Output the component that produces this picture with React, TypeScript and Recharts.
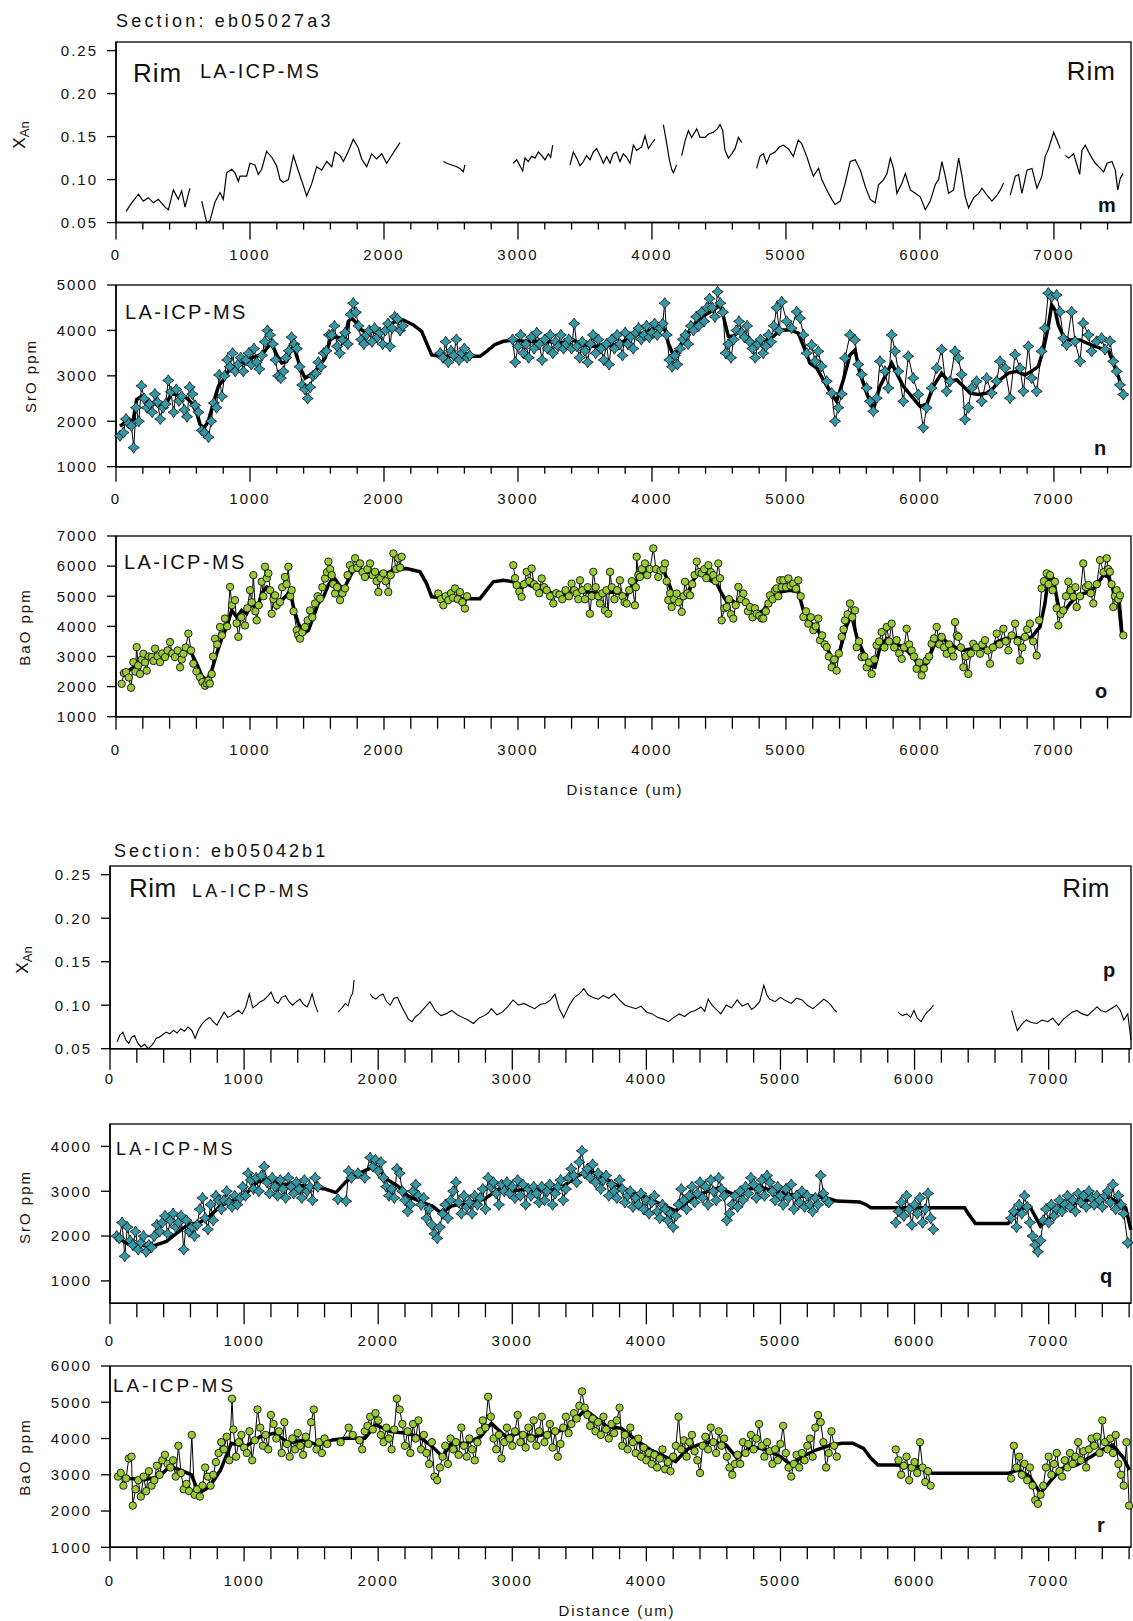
import { ComposedChart, Line, XAxis, YAxis, ReferenceArea } from 'recharts';

type Pt = [number, number | null];

const FONT = "'Liberation Sans', Arial, sans-serif";

// ---- Section eb05027a3 ----
const xTicksA = [0, 200, 400, 600, 800, 1000, 1200, 1400, 1600, 1800, 2000, 2200, 2400, 2600, 2800, 3000, 3200, 3400, 3600, 3800, 4000, 4200, 4400, 4600, 4800, 5000, 5200, 5400, 5600, 5800, 6000, 6200, 6400, 6600, 6800, 7000, 7200, 7400];
const xanTicks = [0.05, 0.1, 0.15, 0.2, 0.25];
const srTicksA = [1000, 2000, 3000, 4000, 5000];
const baTicksA = [1000, 2000, 3000, 4000, 5000, 6000, 7000];

// anorthite fraction, null rows split the traverse where no analyses exist
const xanA: Pt[] = [
  [75, 0.063], [117, 0.073], [167, 0.083], [204, 0.075], [241, 0.079], [279, 0.073], [316, 0.077], [366, 0.068], [391, 0.065], [428, 0.088], [465, 0.077], [490, 0.087], [515, 0.068], [552, 0.09],
  [600, null],
  [640, 0.075], [677, 0.05], [701, 0.052], [739, 0.074], [776, 0.085], [801, 0.077], [826, 0.108], [863, 0.112], [888, 0.108], [913, 0.098], [925, 0.104], [975, 0.104], [1000, 0.119], [1037, 0.117], [1062, 0.106], [1087, 0.112], [1124, 0.133], [1162, 0.126], [1199, 0.116], [1224, 0.1], [1249, 0.097], [1287, 0.1], [1324, 0.128], [1361, 0.11], [1398, 0.093], [1423, 0.081], [1460, 0.095], [1498, 0.115], [1535, 0.111], [1573, 0.121], [1610, 0.115], [1634, 0.132], [1672, 0.128], [1697, 0.121], [1734, 0.133], [1771, 0.147], [1808, 0.137], [1833, 0.124], [1871, 0.115], [1908, 0.13], [1945, 0.124], [1983, 0.13], [2020, 0.119], [2057, 0.128], [2090, 0.136], [2119, 0.143],
  [2300, null],
  [2443, 0.121], [2468, 0.119], [2505, 0.117], [2543, 0.115], [2567, 0.113], [2592, 0.109], [2604, 0.117],
  [2800, null],
  [2965, 0.119], [2990, 0.123], [3015, 0.116], [3035, 0.11], [3052, 0.125], [3077, 0.121], [3102, 0.127], [3127, 0.125], [3152, 0.132], [3177, 0.128], [3202, 0.123], [3226, 0.13], [3244, 0.126], [3259, 0.14],
  [3320, null],
  [3388, 0.117], [3413, 0.132], [3438, 0.125], [3463, 0.116], [3488, 0.121], [3512, 0.128], [3537, 0.123], [3562, 0.132], [3587, 0.136], [3612, 0.128], [3637, 0.119], [3662, 0.127], [3687, 0.119], [3711, 0.13], [3736, 0.132], [3761, 0.121], [3786, 0.13], [3811, 0.126], [3836, 0.119], [3861, 0.14], [3886, 0.134], [3923, 0.138], [3948, 0.151], [3973, 0.136], [3998, 0.142], [4022, 0.147],
  [4050, null],
  [4085, 0.164], [4110, 0.142], [4130, 0.123], [4147, 0.112], [4160, 0.108], [4184, 0.117],
  [4200, null],
  [4222, 0.128], [4247, 0.145], [4272, 0.157], [4296, 0.149], [4334, 0.159], [4359, 0.149], [4396, 0.149], [4421, 0.153], [4458, 0.155], [4488, 0.159], [4508, 0.164], [4528, 0.157], [4545, 0.134], [4570, 0.125], [4595, 0.13], [4620, 0.136], [4645, 0.149], [4670, 0.143],
  [4720, null],
  [4781, 0.113], [4806, 0.127], [4831, 0.13], [4856, 0.119], [4881, 0.129], [4918, 0.132], [4950, 0.138], [4980, 0.14], [5018, 0.136], [5055, 0.127], [5092, 0.146], [5117, 0.142], [5155, 0.127], [5180, 0.115], [5205, 0.104], [5243, 0.113], [5267, 0.1], [5305, 0.088], [5342, 0.077], [5367, 0.071], [5405, 0.075], [5442, 0.096], [5480, 0.121], [5517, 0.123], [5555, 0.111], [5592, 0.092], [5629, 0.077], [5666, 0.073], [5691, 0.094], [5729, 0.1], [5754, 0.107], [5779, 0.125], [5803, 0.113], [5828, 0.084], [5866, 0.096], [5891, 0.107], [5928, 0.088], [5965, 0.084], [6002, 0.08], [6040, 0.065], [6077, 0.075], [6114, 0.094], [6139, 0.1], [6164, 0.121], [6189, 0.104], [6214, 0.084], [6251, 0.088], [6289, 0.125], [6314, 0.104], [6338, 0.08], [6363, 0.067], [6401, 0.079], [6438, 0.084], [6463, 0.09], [6500, 0.082], [6537, 0.075], [6575, 0.082], [6600, 0.088], [6624, 0.096],
  [6650, null],
  [6674, 0.082], [6712, 0.104], [6736, 0.106], [6761, 0.084], [6799, 0.111], [6836, 0.113], [6873, 0.09], [6910, 0.104], [6935, 0.127], [6960, 0.136], [6998, 0.155], [7022, 0.146], [7047, 0.136],
  [7065, null],
  [7085, 0.128], [7110, 0.125], [7147, 0.13], [7172, 0.117], [7192, 0.106], [7209, 0.134], [7234, 0.14], [7259, 0.132], [7284, 0.125], [7309, 0.119], [7346, 0.113], [7371, 0.109], [7396, 0.119], [7433, 0.121], [7458, 0.111], [7476, 0.088], [7496, 0.102], [7516, 0.107],
];

const srA: Pt[] = [
  [30, 1680], [55, 1750], [75, 2050], [95, 1950], [115, 1900], [132, 1420], [150, 2300], [170, 2000], [190, 2780], [210, 2500], [230, 2300], [250, 2380], [270, 2200], [290, 2600], [310, 2420], [330, 2050], [350, 2300], [370, 2380], [390, 2900], [410, 2650], [430, 2200], [450, 2700], [470, 2450], [490, 2550], [510, 2250], [530, 2100], [550, 2750], [570, 2600], [590, 2350], [615, 2200], [640, 1800], [660, 1750], [690, 1650], [710, 2000], [730, 2400], [750, 2300], [770, 3020], [790, 2550], [810, 3000], [830, 3350], [850, 3200], [870, 3500], [890, 3100], [910, 3250], [930, 3400], [950, 3100], [970, 3350], [990, 3500], [1010, 3250], [1030, 3600], [1050, 3300], [1070, 3150], [1090, 3450], [1110, 3750], [1130, 4000], [1150, 3900], [1170, 3700], [1190, 3350], [1210, 3000], [1230, 2950], [1250, 3100], [1270, 3400], [1290, 3550], [1310, 3850], [1330, 3700], [1350, 3600], [1370, 3200], [1390, 2800], [1410, 2700], [1430, 2500], [1450, 2750], [1470, 3000], [1490, 3050], [1510, 3300], [1530, 3200], [1550, 3500], [1570, 3550], [1590, 3900], [1610, 3900], [1630, 4100], [1650, 3650], [1670, 3500], [1690, 3800], [1710, 3950], [1730, 3700], [1750, 4350], [1770, 4600], [1790, 4400], [1810, 4100], [1830, 3800], [1850, 3700], [1870, 3900], [1890, 4000], [1910, 3750], [1930, 4050], [1950, 3850], [1970, 3950], [1990, 3700], [2010, 4000], [2030, 4150], [2045, 3650], [2060, 4050], [2080, 4300], [2100, 4250], [2120, 4000], [2140, 4100],
  [2200, null],
  [2420, 3500], [2440, 3400], [2460, 3750], [2480, 3300], [2500, 3550], [2520, 3450], [2540, 3800], [2560, 3350], [2580, 3500], [2600, 3600], [2620, 3400], [2640, 3450],
  [2700, null],
  [2960, 3800], [2980, 3300], [3000, 3650], [3020, 3900], [3040, 3500], [3060, 3700], [3080, 3400], [3100, 3850], [3120, 3600], [3140, 3950], [3160, 3700], [3180, 3350], [3200, 3800], [3220, 3600], [3240, 3900], [3260, 3500], [3280, 3750], [3300, 3650], [3320, 3900], [3340, 3600], [3360, 3700], [3380, 3800], [3400, 3600], [3420, 4150], [3440, 3650], [3460, 3400], [3480, 3750], [3500, 3550], [3520, 3300], [3540, 3700], [3560, 3900], [3580, 3500], [3600, 3800], [3620, 3600], [3640, 3350], [3660, 3700], [3680, 3250], [3700, 3800], [3720, 3600], [3740, 3900], [3760, 3700], [3780, 3450], [3800, 3950], [3820, 3700], [3840, 3850], [3860, 3600], [3880, 3950], [3900, 4050], [3920, 3800], [3940, 3900], [3960, 4100], [3980, 3850], [4000, 3950], [4020, 4150], [4040, 3900], [4060, 4050], [4080, 4150], [4095, 4600], [4110, 3900], [4130, 3350], [4150, 3200], [4170, 3450], [4190, 3250], [4210, 3600], [4230, 3800], [4250, 3900], [4270, 3700], [4290, 4100], [4310, 4000], [4330, 4300], [4350, 4100], [4370, 4400], [4390, 4200], [4410, 4500], [4430, 4700], [4450, 4500], [4470, 4300], [4490, 4850], [4510, 4600], [4530, 4400], [4550, 3500], [4570, 3700], [4590, 3400], [4610, 3800], [4630, 4000], [4650, 4200], [4670, 3950], [4690, 3850], [4710, 4100], [4730, 3750], [4750, 3600], [4770, 3400], [4790, 3700], [4810, 3800], [4830, 3500], [4850, 3650], [4870, 3900], [4890, 3750], [4910, 4100], [4930, 4500], [4950, 4000], [4968, 4630], [5005, 4200], [5042, 4050], [5080, 4410], [5105, 4270], [5130, 3900], [5155, 3500], [5192, 3680], [5217, 3320], [5241, 3540], [5266, 3210], [5304, 2880], [5341, 2620], [5366, 2000], [5391, 2300], [5416, 2600], [5441, 3390], [5478, 3900], [5515, 3790], [5540, 3250], [5565, 3030], [5602, 2730], [5627, 2440], [5652, 2220], [5677, 2510], [5702, 3320], [5739, 3100], [5764, 2730], [5789, 3900], [5814, 3540], [5839, 3100], [5876, 2440], [5913, 3430], [5950, 2950], [5988, 2590], [6025, 1860], [6050, 2300], [6087, 2730], [6125, 3170], [6162, 3580], [6199, 2660], [6224, 2880], [6262, 3540], [6287, 3390], [6311, 3030], [6336, 2040], [6361, 2300], [6386, 2730], [6423, 2880], [6461, 2440], [6498, 2950], [6535, 2620], [6573, 2880], [6597, 3320], [6635, 3170], [6672, 2510], [6710, 3470], [6747, 3170], [6772, 2660], [6809, 3650], [6834, 2950], [6871, 2660], [6908, 3540], [6933, 4050], [6958, 4820], [6983, 4740], [7020, 4780], [7045, 4410], [7070, 3830], [7095, 3680], [7132, 4410], [7157, 3760], [7195, 3320], [7219, 4160], [7257, 3900], [7281, 3540], [7319, 3760], [7356, 3830], [7381, 3580], [7418, 3760], [7443, 3320], [7468, 3100], [7493, 2800], [7518, 2590],
];

const srAFit: Pt[] = [
  [30, 1890], [80, 2000], [129, 2040], [154, 2480], [192, 2550], [229, 2440], [279, 2400], [328, 2330], [378, 2400], [415, 2620], [453, 2580], [490, 2550], [527, 2510], [565, 2400], [602, 2180], [627, 1930], [657, 1850], [689, 2000], [726, 2400], [764, 2770], [801, 2910], [851, 3170], [900, 3240], [950, 3280], [1000, 3390], [1050, 3430], [1100, 3500], [1137, 3650], [1162, 3720], [1199, 3460], [1237, 3280], [1274, 3320], [1299, 3540], [1324, 3650], [1361, 3320], [1386, 3100], [1411, 2950], [1448, 3020], [1485, 3100], [1523, 3240], [1560, 3390], [1597, 3790], [1635, 3870], [1672, 3830], [1709, 3870], [1734, 4200], [1759, 4270], [1796, 4160], [1834, 4010], [1871, 3940], [1921, 3980], [1970, 3950], [2020, 4010], [2070, 4180], [2144, 4230], [2219, 4120], [2281, 3980], [2318, 3720], [2356, 3460], [2393, 3440], [2468, 3430], [2592, 3430], [2716, 3430], [2766, 3540], [2828, 3690], [2891, 3760], [2965, 3790], [3040, 3760], [3139, 3760], [3214, 3760], [3313, 3720], [3413, 3790], [3463, 3690], [3562, 3650], [3662, 3650], [3761, 3720], [3861, 3870], [3960, 3980], [4060, 4090], [4097, 4010], [4122, 3720], [4159, 3460], [4197, 3570], [4234, 3790], [4284, 4010], [4334, 4200], [4396, 4340], [4458, 4450], [4508, 4560], [4533, 4310], [4570, 3870], [4607, 3870], [4657, 4010], [4707, 3870], [4757, 3720], [4806, 3760], [4856, 3790], [4906, 3870], [4955, 4010], [5030, 4010], [5092, 3940], [5142, 3570], [5179, 3280], [5229, 3170], [5279, 2910], [5328, 2660], [5378, 2440], [5428, 2910], [5478, 3460], [5515, 3570], [5552, 3060], [5602, 2620], [5652, 2250], [5702, 2770], [5752, 3060], [5789, 3280], [5826, 3060], [5876, 2770], [5938, 2550], [6000, 2330], [6050, 2370], [6100, 2770], [6162, 3060], [6212, 2880], [6274, 2910], [6324, 2770], [6374, 2620], [6436, 2590], [6498, 2620], [6548, 2730], [6597, 2910], [6660, 3060], [6722, 3100], [6784, 3020], [6834, 3100], [6884, 3210], [6921, 3570], [6958, 4090], [6983, 4560], [7008, 4450], [7033, 4120], [7070, 3870], [7120, 3790], [7195, 3790], [7269, 3690], [7344, 3610], [7406, 3570], [7443, 3280], [7481, 2980], [7506, 2770],
];

const baA: Pt[] = [
  [42, 2090], [60, 2450], [75, 2480], [95, 2300], [112, 1960], [129, 2810], [145, 2500], [154, 3310], [165, 2700], [179, 2420], [192, 2900], [204, 3090], [216, 2800], [229, 2530], [245, 3000], [266, 2980], [280, 2850], [291, 3260], [310, 3000], [328, 2810], [345, 3100], [366, 2980], [385, 3200], [403, 3480], [420, 3100], [440, 2980], [460, 3200], [478, 2640], [490, 2900], [503, 3090], [520, 3300], [540, 3760], [560, 3200], [577, 2760], [600, 2500], [627, 2310], [645, 2150], [664, 2030], [677, 2100], [689, 2200], [700, 2100], [714, 2420], [725, 3000], [739, 3590], [755, 3400], [776, 3980], [790, 3700], [813, 4260], [830, 4000], [851, 5310], [865, 4700], [888, 4870], [900, 4100], [913, 3650], [935, 4300], [963, 4030], [980, 4600], [1000, 5200], [1013, 4800], [1025, 5700], [1040, 4500], [1050, 4200], [1065, 4700], [1087, 5480], [1100, 5000], [1112, 5980], [1125, 5600], [1137, 5760], [1150, 5200], [1162, 4420], [1175, 4900], [1187, 5030], [1200, 4700], [1224, 4810], [1240, 5300], [1261, 5640], [1273, 5400], [1286, 5980], [1300, 5000], [1311, 5200], [1325, 4500], [1349, 3870], [1360, 3700], [1373, 3590], [1390, 3800], [1411, 3980], [1430, 4200], [1448, 4530], [1465, 4300], [1485, 4760], [1505, 5000], [1523, 4920], [1540, 5300], [1560, 5590], [1575, 5800], [1585, 6150], [1598, 5900], [1610, 5700], [1622, 5400], [1635, 5090], [1650, 5300], [1672, 4870], [1690, 5100], [1709, 5260], [1728, 5700], [1746, 6030], [1765, 5900], [1784, 6260], [1800, 5950], [1821, 6090], [1840, 5800], [1858, 5640], [1876, 5900], [1896, 6090], [1915, 5700], [1933, 5810], [1945, 5500], [1958, 5140], [1975, 5600], [1995, 5760], [2012, 5500], [2032, 5140], [2050, 5700], [2070, 6420], [2090, 5900], [2107, 6260], [2120, 5950], [2132, 6310],
  [2200, null],
  [2405, 5090], [2425, 4900], [2443, 4700], [2460, 5000], [2480, 4870], [2500, 5100], [2515, 4950], [2530, 5260], [2550, 4900], [2567, 5140], [2585, 4800], [2604, 4590], [2620, 5000],
  [2700, null],
  [2965, 6030], [2978, 5600], [2990, 5370], [3010, 5150], [3027, 4980], [3045, 5400], [3065, 5810], [3085, 5500], [3102, 5920], [3120, 5400], [3139, 5310], [3158, 5100], [3177, 5590], [3195, 5300], [3214, 5200], [3240, 5000], [3264, 4760], [3285, 5100], [3310, 5050], [3330, 4900], [3355, 5200], [3380, 5000], [3400, 5420], [3420, 5200], [3438, 5090], [3450, 4900], [3463, 5530], [3480, 5200], [3500, 4900], [3520, 5300], [3537, 4420], [3550, 5000], [3562, 5810], [3580, 5300], [3600, 5000], [3612, 4760], [3630, 5100], [3649, 4530], [3660, 5200], [3674, 4420], [3687, 5810], [3700, 5300], [3720, 4900], [3740, 5200], [3761, 5530], [3780, 5000], [3795, 4800], [3811, 4760], [3830, 5200], [3850, 5500], [3873, 4700], [3880, 5300], [3886, 6310], [3898, 5700], [3910, 5640], [3925, 5900], [3948, 6090], [3965, 5700], [3985, 5900], [4010, 6590], [4030, 5900], [4047, 5640], [4065, 5850], [4085, 5900], [4097, 6090], [4110, 5500], [4122, 4870], [4135, 5100], [4147, 4640], [4165, 4900], [4184, 5090], [4200, 4800], [4222, 4480], [4235, 5000], [4247, 5480], [4265, 5100], [4284, 5030], [4300, 5400], [4318, 5700], [4334, 6150], [4350, 5800], [4371, 5760], [4390, 5900], [4405, 5600], [4421, 6030], [4440, 5800], [4458, 5700], [4475, 5500], [4495, 6090], [4508, 5600], [4520, 4200], [4540, 4600], [4558, 4640], [4575, 4900], [4590, 4400], [4607, 4260], [4625, 4700], [4645, 5310], [4665, 4900], [4682, 5090], [4700, 4800], [4716, 4500], [4732, 4640], [4750, 4300], [4768, 4600], [4781, 4420], [4800, 4350], [4819, 4260], [4831, 4260], [4850, 4500], [4869, 4760], [4881, 5030], [4900, 4900], [4918, 5200], [4930, 5260], [4943, 5000], [4956, 5530], [4968, 5300], [4980, 5530], [5000, 5300], [5018, 5590], [5035, 5350], [5055, 5420], [5075, 5250], [5092, 5530], [5110, 5000], [5130, 4310], [5150, 4500], [5167, 4090], [5185, 4300], [5204, 3870], [5222, 4000], [5241, 4260], [5254, 3540], [5270, 3700], [5290, 3400], [5304, 3310], [5320, 3000], [5341, 2640], [5360, 2900], [5378, 2530], [5395, 3100], [5416, 3650], [5430, 3900], [5441, 4200], [5460, 4400], [5478, 4760], [5495, 4300], [5515, 4530], [5528, 3310], [5545, 3500], [5565, 2980], [5585, 3000], [5602, 2640], [5620, 2800], [5640, 2420], [5660, 2900], [5677, 3370], [5695, 3500], [5714, 3810], [5735, 3300], [5752, 3980], [5770, 3500], [5789, 4090], [5808, 3300], [5826, 3540], [5845, 3100], [5864, 2920], [5882, 3300], [5901, 3920], [5920, 3400], [5938, 3200], [5955, 3000], [5975, 2590], [5995, 2800], [6013, 2370], [6030, 2600], [6050, 2870], [6068, 3000], [6087, 3420], [6105, 3600], [6125, 3980], [6145, 3400], [6162, 3650], [6180, 3300], [6199, 3090], [6218, 3400], [6237, 3200], [6250, 3000], [6262, 4140], [6275, 3700], [6287, 3650], [6305, 3300], [6324, 2640], [6342, 3000], [6361, 2420], [6380, 3100], [6398, 3420], [6420, 3300], [6448, 3090], [6465, 3400], [6486, 3540], [6505, 3200], [6523, 2760], [6545, 3300], [6573, 3760], [6595, 3400], [6623, 3920], [6640, 3500], [6660, 3200], [6685, 3700], [6710, 4090], [6728, 3500], [6747, 2870], [6765, 3300], [6784, 3650], [6800, 3900], [6821, 4090], [6845, 3500], [6871, 3030], [6890, 4200], [6908, 5260], [6925, 5500], [6946, 5760], [6960, 5400], [6971, 5700], [6990, 5200], [7008, 5480], [7020, 4600], [7033, 4030], [7050, 4400], [7070, 4530], [7090, 5000], [7108, 5480], [7125, 5200], [7145, 4980], [7160, 5300], [7170, 4640], [7195, 5000], [7219, 6090], [7238, 5300], [7257, 5370], [7275, 5100], [7294, 4760], [7320, 5400], [7344, 6200], [7370, 5800], [7394, 6260], [7405, 5900], [7418, 5810], [7430, 5400], [7443, 4640], [7455, 5000], [7468, 5200], [7480, 4900], [7493, 5030], [7518, 3700],
];

const baAFit: Pt[] = [
  [30, 2420], [80, 2480], [129, 2640], [179, 2870], [229, 2980], [303, 3030], [378, 3090], [453, 3140], [527, 3200], [565, 3090], [602, 2760], [639, 2370], [677, 2200], [714, 2530], [751, 3090], [789, 3590], [826, 3980], [863, 4530], [901, 4310], [938, 4530], [975, 4420], [1013, 4760], [1050, 4530], [1087, 5090], [1125, 5310], [1162, 5200], [1199, 4640], [1237, 4870], [1274, 5030], [1299, 5200], [1324, 4640], [1361, 4090], [1398, 3760], [1436, 3870], [1473, 4310], [1510, 4760], [1548, 4980], [1585, 5370], [1622, 5640], [1659, 5420], [1697, 5200], [1734, 5530], [1771, 5870], [1821, 5870], [1871, 5810], [1921, 5760], [1970, 5760], [2020, 5760], [2070, 5870], [2169, 5920], [2269, 5810], [2318, 5420], [2356, 4980], [2418, 4960], [2468, 4960], [2592, 4920], [2716, 4920], [2766, 5200], [2816, 5480], [2891, 5530], [2965, 5480], [3015, 5260], [3065, 5420], [3114, 5310], [3189, 5200], [3264, 5090], [3338, 5030], [3413, 5200], [3513, 5140], [3612, 5090], [3712, 5140], [3811, 5030], [3873, 5480], [3936, 5760], [4010, 5920], [4085, 5870], [4122, 5480], [4159, 5030], [4209, 5030], [4259, 5030], [4309, 5530], [4359, 5870], [4396, 5810], [4433, 5530], [4483, 5420], [4520, 5090], [4558, 4810], [4595, 4870], [4632, 4760], [4682, 4920], [4732, 4640], [4781, 4420], [4831, 4530], [4881, 4870], [4955, 5140], [5030, 5200], [5092, 5140], [5130, 4530], [5179, 4140], [5229, 3980], [5279, 3480], [5316, 3200], [5353, 2810], [5403, 3200], [5453, 4030], [5490, 4370], [5528, 3650], [5577, 3140], [5627, 2700], [5664, 2640], [5702, 3310], [5752, 3590], [5801, 3420], [5851, 3370], [5901, 3200], [5951, 2980], [6000, 2640], [6050, 2760], [6100, 3310], [6150, 3700], [6199, 3480], [6262, 3310], [6324, 3200], [6386, 3260], [6448, 3310], [6510, 3200], [6573, 3480], [6635, 3590], [6697, 3650], [6772, 3590], [6834, 3650], [6896, 3980], [6933, 4760], [6958, 5640], [6995, 5590], [7020, 4980], [7045, 4420], [7083, 4530], [7120, 4760], [7170, 4980], [7219, 5090], [7269, 5140], [7319, 5370], [7369, 5700], [7406, 5640], [7443, 5200], [7481, 4870], [7506, 3760],
];

// ---- Section eb05042b1 ----
const xTicksB = [0, 200, 400, 600, 800, 1000, 1200, 1400, 1600, 1800, 2000, 2200, 2400, 2600, 2800, 3000, 3200, 3400, 3600, 3800, 4000, 4200, 4400, 4600, 4800, 5000, 5200, 5400, 5600, 5800, 6000, 6200, 6400, 6600, 6800, 7000, 7200, 7400, 7600];
const srTicksB = [1000, 2000, 3000, 4000];
const baTicksB = [1000, 2000, 3000, 4000, 5000, 6000];

const xanB: Pt[] = [
  [53, 0.058], [75, 0.066], [96, 0.069], [118, 0.06], [140, 0.056], [160, 0.063], [183, 0.065], [205, 0.057], [231, 0.052], [258, 0.055], [285, 0.05], [305, 0.053], [323, 0.056], [345, 0.062], [366, 0.063], [392, 0.066], [420, 0.069], [445, 0.067], [474, 0.071], [500, 0.068], [527, 0.073], [555, 0.07], [581, 0.075], [610, 0.071], [635, 0.062], [660, 0.072], [689, 0.079], [715, 0.083], [743, 0.086], [770, 0.081], [797, 0.077], [825, 0.085], [851, 0.092], [878, 0.086], [905, 0.088], [930, 0.091], [958, 0.094], [985, 0.09], [1012, 0.098], [1039, 0.113], [1065, 0.097], [1093, 0.1], [1120, 0.104], [1147, 0.106], [1175, 0.11], [1201, 0.115], [1228, 0.105], [1254, 0.102], [1280, 0.109], [1308, 0.111], [1335, 0.104], [1362, 0.1], [1390, 0.104], [1416, 0.107], [1442, 0.101], [1470, 0.098], [1490, 0.105], [1507, 0.113], [1530, 0.1], [1550, 0.092],
  [1620, null],
  [1701, 0.092], [1730, 0.097], [1755, 0.102], [1775, 0.099], [1793, 0.109], [1810, 0.114], [1820, 0.129],
  [1880, null],
  [1939, 0.113], [1960, 0.109], [1982, 0.107], [2010, 0.111], [2036, 0.113], [2063, 0.104], [2090, 0.1], [2117, 0.108], [2144, 0.109], [2170, 0.1], [2198, 0.092], [2225, 0.084], [2252, 0.081], [2280, 0.087], [2306, 0.09], [2345, 0.097], [2387, 0.104], [2425, 0.094], [2467, 0.088], [2505, 0.09], [2548, 0.094], [2590, 0.089], [2629, 0.086], [2670, 0.083], [2710, 0.079], [2750, 0.085], [2790, 0.088], [2820, 0.091], [2844, 0.096], [2885, 0.089], [2925, 0.092], [2965, 0.098], [3006, 0.106], [3045, 0.1], [3087, 0.102], [3125, 0.099], [3167, 0.096], [3210, 0.101], [3248, 0.102], [3285, 0.106], [3318, 0.113], [3350, 0.096], [3383, 0.086], [3425, 0.1], [3464, 0.109], [3500, 0.113], [3534, 0.119], [3565, 0.112], [3598, 0.109], [3640, 0.107], [3679, 0.111], [3720, 0.108], [3760, 0.113], [3800, 0.106], [3841, 0.1], [3880, 0.098], [3922, 0.096], [3960, 0.099], [4003, 0.092], [4045, 0.09], [4083, 0.086], [4125, 0.084], [4164, 0.081], [4205, 0.086], [4245, 0.09], [4285, 0.087], [4326, 0.092], [4365, 0.094], [4407, 0.098], [4435, 0.093], [4461, 0.107], [4490, 0.1], [4515, 0.096], [4555, 0.09], [4596, 0.1], [4635, 0.097], [4677, 0.106], [4715, 0.099], [4757, 0.102], [4785, 0.095], [4811, 0.098], [4845, 0.104], [4876, 0.123], [4898, 0.112], [4919, 0.107], [4960, 0.104], [5000, 0.109], [5040, 0.105], [5081, 0.102], [5120, 0.108], [5161, 0.106], [5200, 0.1], [5242, 0.096], [5280, 0.101], [5323, 0.107], [5350, 0.104], [5377, 0.1], [5400, 0.095], [5420, 0.092],
  [5600, null],
  [5876, 0.092], [5910, 0.088], [5942, 0.09], [5970, 0.086], [5996, 0.094], [6020, 0.085], [6049, 0.081], [6070, 0.087], [6093, 0.092], [6115, 0.095], [6141, 0.1],
  [6400, null],
  [6724, 0.094], [6745, 0.082], [6767, 0.071], [6800, 0.078], [6832, 0.083], [6870, 0.08], [6913, 0.079], [6950, 0.083], [6993, 0.081], [7030, 0.085], [7074, 0.077], [7110, 0.084], [7144, 0.088], [7175, 0.092], [7209, 0.094], [7250, 0.09], [7290, 0.088], [7325, 0.093], [7360, 0.098], [7390, 0.094], [7425, 0.092], [7465, 0.096], [7506, 0.1], [7535, 0.094], [7560, 0.083], [7590, 0.09], [7614, 0.06],
];

const srB: Pt[] = [
  [50, 2000], [70, 1950], [90, 2300], [110, 1550], [130, 2200], [150, 1900], [170, 1800], [190, 2100], [210, 1700], [230, 1850], [250, 2000], [270, 1650], [290, 1800], [310, 1750], [330, 2000], [350, 2250], [370, 2100], [390, 2300], [410, 2450], [430, 2050], [450, 2350], [470, 2500], [490, 2200], [510, 2300], [530, 2450], [550, 1700], [570, 2350], [590, 2100], [610, 2200], [630, 2000], [650, 2250], [670, 2600], [690, 2850], [710, 2400], [730, 2150], [750, 2700], [770, 2350], [790, 2900], [810, 2800], [830, 2600], [850, 2800], [870, 3000], [890, 2750], [910, 2650], [930, 2900], [950, 2700], [970, 2850], [990, 3100], [1010, 2900], [1030, 3400], [1050, 3250], [1070, 3050], [1090, 3300], [1110, 3000], [1130, 3350], [1150, 3550], [1170, 3200], [1190, 2950], [1210, 3300], [1230, 3100], [1250, 2900], [1270, 3250], [1290, 3050], [1310, 2850], [1330, 3300], [1350, 3100], [1370, 2950], [1390, 3200], [1410, 3050], [1430, 2850], [1450, 3250], [1470, 3000], [1490, 3100], [1510, 2800], [1530, 3300], [1550, 3100],
  [1600, null],
  [1700, 2820], [1760, 2780], [1780, 3450], [1800, 3300], [1850, 3400], [1900, 3300], [1940, 3750], [1960, 3550], [1980, 3700], [2000, 3450], [2020, 3650], [2040, 3300], [2060, 3100], [2080, 2900], [2100, 3050], [2120, 2850], [2140, 3500], [2160, 3400], [2180, 3000], [2200, 2800], [2220, 2550], [2240, 2700], [2260, 3000], [2280, 3150], [2300, 2900], [2320, 2700], [2340, 2850], [2360, 2400], [2380, 2600], [2400, 2250], [2420, 2050], [2440, 1950], [2460, 2200], [2480, 2500], [2500, 2700], [2520, 2400], [2540, 2800], [2560, 3000], [2580, 3200], [2600, 2750], [2620, 2500], [2640, 2900], [2660, 2650], [2680, 2750], [2700, 2500], [2720, 2900], [2740, 2700], [2760, 2850], [2780, 3050], [2800, 2600], [2820, 3300], [2840, 3100], [2860, 3200], [2880, 2950], [2900, 2700], [2920, 3150], [2940, 3000], [2960, 3200], [2980, 2950], [3000, 3100], [3020, 2850], [3040, 3250], [3060, 2900], [3080, 3150], [3100, 2700], [3120, 3050], [3140, 2900], [3160, 3100], [3180, 2950], [3200, 2750], [3220, 3100], [3240, 2800], [3260, 3000], [3280, 3150], [3300, 2700], [3320, 2950], [3340, 3100], [3360, 3250], [3380, 2800], [3400, 3050], [3420, 3300], [3440, 3500], [3460, 3350], [3480, 3200], [3500, 3650], [3520, 3900], [3540, 3400], [3560, 3500], [3580, 3300], [3600, 3600], [3620, 3200], [3640, 3400], [3660, 3050], [3680, 3250], [3700, 3350], [3720, 2900], [3740, 3150], [3760, 3000], [3780, 2850], [3800, 3250], [3820, 3050], [3840, 2750], [3860, 2900], [3880, 3000], [3900, 2650], [3920, 2850], [3940, 2700], [3960, 2950], [3980, 2600], [4000, 2800], [4020, 2500], [4040, 2750], [4060, 2900], [4080, 2550], [4100, 2400], [4120, 2700], [4140, 2600], [4160, 2350], [4180, 2500], [4200, 2200], [4220, 2450], [4240, 2700], [4260, 3050], [4280, 2800], [4300, 2600], [4320, 2900], [4340, 3100], [4360, 2750], [4380, 2950], [4400, 3200], [4420, 2850], [4440, 3100], [4460, 2700], [4480, 3250], [4500, 3000], [4520, 2800], [4540, 3300], [4560, 3050], [4580, 2900], [4600, 2350], [4620, 2500], [4640, 2700], [4660, 2900], [4680, 2650], [4700, 3000], [4720, 2800], [4740, 3100], [4760, 2950], [4780, 3300], [4800, 3150], [4820, 2850], [4840, 3050], [4860, 3250], [4880, 2900], [4900, 3350], [4920, 3200], [4940, 3000], [4960, 2800], [4980, 3100], [5000, 2900], [5020, 2700], [5040, 3050], [5060, 2850], [5080, 3150], [5100, 2600], [5120, 2900], [5140, 2750], [5160, 3000], [5180, 2650], [5200, 2900], [5220, 2700], [5240, 2550], [5260, 2850], [5280, 2700], [5300, 3350], [5320, 2950], [5340, 2800], [5360, 2750],
  [5500, null],
  [5860, 2300], [5880, 2550], [5900, 2750], [5920, 2450], [5940, 2900], [5960, 2600], [5980, 2250], [6000, 2700], [6020, 2500], [6040, 2850], [6060, 2300], [6080, 2600], [6100, 2950], [6120, 2400], [6140, 2150],
  [6300, null],
  [6720, 2400], [6740, 2550], [6760, 2200], [6780, 2700], [6800, 2500], [6820, 2900], [6840, 2650], [6860, 2300], [6880, 2000], [6900, 1800], [6920, 1650], [6940, 1900], [6960, 2350], [6980, 2600], [7000, 2300], [7020, 2700], [7040, 2450], [7060, 2600], [7080, 2800], [7100, 2550], [7120, 2700], [7140, 2900], [7160, 2650], [7180, 2800], [7200, 2550], [7220, 2950], [7240, 2750], [7260, 2900], [7280, 2650], [7300, 3000], [7320, 2850], [7340, 2700], [7360, 2900], [7380, 2800], [7400, 2650], [7420, 2900], [7440, 3000], [7460, 2750], [7480, 3150], [7500, 2600], [7520, 2900], [7540, 2700], [7560, 2500], [7590, 1850],
];

const srBFit: Pt[] = [
  [42, 2000], [123, 1840], [204, 1800], [312, 1770], [420, 1880], [501, 2070], [581, 2260], [662, 2290], [743, 2440], [824, 2670], [905, 2780], [1012, 2930], [1093, 3200], [1174, 3270], [1282, 3160], [1443, 3120], [1605, 3050], [1685, 2970], [1766, 3230], [1874, 3420], [1982, 3570], [2063, 3270], [2144, 3120], [2225, 2890], [2306, 2780], [2403, 2670], [2467, 2520], [2548, 2670], [2656, 2740], [2790, 2820], [2898, 3050], [3006, 3010], [3140, 3050], [3275, 3010], [3383, 3120], [3491, 3350], [3572, 3460], [3679, 3310], [3787, 3120], [3895, 2970], [4003, 2860], [4110, 2710], [4218, 2560], [4326, 2820], [4434, 2970], [4541, 3080], [4649, 2930], [4757, 3050], [4865, 3080], [5000, 2970], [5135, 2890], [5269, 2890], [5377, 2820], [5420, 2780], [5592, 2760], [5640, 2700], [5673, 2630], [6373, 2630], [6400, 2500], [6454, 2280], [6697, 2280], [6777, 2590], [6858, 2670], [6939, 2220], [7020, 2440], [7100, 2670], [7208, 2740], [7316, 2820], [7424, 2890], [7505, 2780], [7575, 2630], [7613, 2140],
];

const baB: Pt[] = [
  [60, 2950], [80, 3050], [100, 2700], [120, 2900], [140, 3450], [160, 3500], [170, 2150], [190, 2600], [210, 2850], [230, 2400], [250, 2950], [270, 2550], [290, 3100], [310, 2700], [330, 2850], [350, 3250], [370, 3000], [390, 3400], [410, 3550], [430, 3300], [450, 3200], [470, 3400], [490, 2950], [510, 3800], [530, 3050], [550, 2600], [570, 2750], [590, 2550], [610, 4100], [630, 2450], [650, 2600], [670, 2400], [690, 2700], [710, 3200], [730, 2950], [750, 2700], [770, 3000], [790, 3350], [810, 3600], [830, 3900], [850, 3700], [870, 4050], [890, 3400], [910, 5100], [920, 4250], [940, 3500], [960, 3900], [980, 4100], [1000, 3750], [1020, 3600], [1040, 4200], [1060, 3400], [1080, 3950], [1100, 4800], [1120, 4300], [1140, 3800], [1160, 4100], [1180, 3700], [1200, 4650], [1220, 4400], [1240, 4000], [1260, 4200], [1280, 3600], [1300, 4450], [1320, 3850], [1340, 3500], [1360, 4000], [1380, 3700], [1400, 4150], [1420, 3800], [1440, 3550], [1460, 4050], [1480, 3850], [1500, 4450], [1520, 4800], [1540, 3700], [1560, 3900], [1580, 3600], [1600, 4000], [1620, 3850],
  [1680, null],
  [1720, 3900], [1780, 4300], [1810, 4100], [1860, 3950], [1880, 3700], [1900, 4200], [1920, 4350], [1940, 4600], [1960, 4250], [1980, 4700], [2000, 4500], [2020, 4100], [2040, 3900], [2060, 4300], [2080, 4000], [2100, 3700], [2120, 4250], [2140, 5100], [2160, 4800], [2180, 4400], [2200, 3800], [2220, 4200], [2240, 3600], [2260, 4400], [2280, 4000], [2300, 4500], [2320, 3700], [2340, 4100], [2360, 3600], [2380, 3300], [2400, 3900], [2420, 2950], [2440, 2850], [2460, 3200], [2480, 3500], [2500, 3800], [2520, 3300], [2540, 4000], [2560, 3700], [2580, 3900], [2600, 3550], [2620, 4300], [2640, 3800], [2660, 3500], [2680, 4000], [2700, 3700], [2720, 3400], [2740, 3900], [2760, 4200], [2780, 4500], [2800, 4300], [2820, 5150], [2840, 4600], [2860, 4000], [2880, 3700], [2900, 4100], [2920, 3450], [2940, 3900], [2960, 4300], [2980, 4000], [3000, 3800], [3020, 4200], [3040, 4650], [3060, 3900], [3080, 4100], [3100, 3750], [3120, 4300], [3140, 4000], [3160, 4500], [3180, 3800], [3200, 4200], [3220, 4600], [3240, 3900], [3260, 4100], [3280, 4400], [3300, 3750], [3320, 4200], [3340, 3500], [3360, 3850], [3380, 4300], [3400, 4600], [3420, 4150], [3440, 4400], [3460, 4700], [3480, 4550], [3500, 4900], [3520, 5300], [3540, 4850], [3560, 4650], [3580, 4350], [3600, 4550], [3620, 4200], [3640, 4450], [3660, 4100], [3680, 4600], [3700, 4250], [3720, 4000], [3740, 4400], [3760, 4150], [3780, 4500], [3800, 4850], [3820, 3800], [3840, 4100], [3860, 3700], [3880, 4300], [3900, 3900], [3920, 3600], [3940, 4000], [3960, 3500], [3980, 3750], [4000, 3400], [4020, 3600], [4040, 3300], [4060, 3550], [4080, 3200], [4100, 3450], [4120, 3700], [4140, 3150], [4160, 3350], [4180, 3100], [4200, 3500], [4220, 3800], [4240, 4600], [4260, 3700], [4280, 3950], [4300, 3500], [4320, 3900], [4340, 4100], [4360, 3650], [4380, 3400], [4400, 3050], [4420, 3800], [4440, 4050], [4460, 3700], [4480, 4300], [4500, 3900], [4520, 3600], [4540, 4200], [4560, 3800], [4580, 4000], [4600, 3500], [4620, 3200], [4640, 3000], [4660, 3300], [4680, 3550], [4700, 3300], [4720, 3900], [4740, 3600], [4760, 3850], [4780, 4100], [4800, 3700], [4820, 4000], [4840, 4400], [4860, 3800], [4880, 3500], [4900, 3900], [4920, 3650], [4940, 3300], [4960, 3700], [4980, 3400], [5000, 3850], [5020, 4350], [5040, 3600], [5060, 3200], [5080, 2950], [5100, 3300], [5120, 3550], [5140, 3200], [5160, 3600], [5180, 3400], [5200, 3800], [5220, 4000], [5240, 3500], [5260, 4300], [5280, 4650], [5300, 4450], [5320, 3900], [5340, 3200], [5360, 3600], [5380, 4200], [5400, 3800], [5420, 3500],
  [5600, null],
  [5860, 3700], [5880, 3400], [5900, 3000], [5920, 3250], [5940, 3500], [5960, 2850], [5980, 3200], [6000, 3350], [6020, 3050], [6040, 3900], [6060, 3200], [6080, 2800], [6100, 3100], [6120, 2700],
  [6300, null],
  [6720, 2900], [6740, 3800], [6760, 3200], [6780, 3500], [6800, 3000], [6820, 3300], [6840, 2850], [6860, 3200], [6880, 2700], [6900, 2300], [6920, 2200], [6940, 2450], [6960, 2700], [6980, 3200], [7000, 3500], [7020, 3000], [7040, 3300], [7060, 3600], [7080, 3100], [7100, 2950], [7120, 3400], [7140, 3200], [7160, 3600], [7180, 3300], [7200, 3500], [7220, 3900], [7240, 3400], [7260, 3650], [7280, 3200], [7300, 3700], [7320, 4000], [7340, 3800], [7360, 4050], [7380, 3600], [7400, 4500], [7420, 3900], [7440, 3700], [7460, 4000], [7480, 3600], [7500, 4100], [7520, 3300], [7540, 3000], [7560, 2700], [7580, 3900], [7600, 2150],
];

const baBFit: Pt[] = [
  [42, 2950], [150, 2900], [258, 2860], [366, 2950], [447, 3230], [527, 3130], [608, 3000], [662, 2490], [743, 2670], [824, 3130], [905, 3870], [1012, 3780], [1120, 4050], [1228, 4150], [1335, 3870], [1443, 3960], [1551, 3820], [1659, 3960], [1766, 4010], [1901, 4010], [1982, 4380], [2090, 4190], [2198, 4150], [2306, 4050], [2403, 3780], [2478, 3500], [2548, 3870], [2656, 3870], [2763, 4050], [2844, 4420], [2952, 4050], [3060, 4150], [3167, 4050], [3275, 4150], [3383, 4240], [3464, 4510], [3545, 4790], [3625, 4560], [3706, 4330], [3814, 4280], [3922, 3960], [4030, 3690], [4137, 3500], [4218, 3360], [4299, 3690], [4380, 3820], [4488, 3920], [4595, 3820], [4676, 3460], [4784, 3780], [4892, 3690], [5000, 3500], [5081, 3270], [5161, 3500], [5269, 3690], [5377, 3820], [5458, 3870], [5538, 3870], [5619, 3730], [5673, 3460], [5727, 3270], [5861, 3270], [6023, 3230], [6131, 3040], [6292, 3040], [6507, 3040], [6697, 3040], [6777, 3130], [6858, 2950], [6939, 2490], [7020, 2860], [7100, 3180], [7208, 3270], [7316, 3500], [7397, 3690], [7478, 3820], [7559, 3460], [7602, 3130],
];

const rows = (pts: Pt[]) => pts.map(([d, v]) => ({ d, v }));

const TEAL = '#3399a6';
const LIME = '#99cc33';

function diamond(p: any) {
  const { cx, cy, index } = p;
  if (cx == null || cy == null || p.value == null) return <g key={`dm${index}`} />;
  const o = 5.6;
  const i = 2.2;
  const d = `M${cx},${cy - o}L${cx + i},${cy - i}L${cx + o},${cy}L${cx + i},${cy + i}L${cx},${cy + o}L${cx - i},${cy + i}L${cx - o},${cy}L${cx - i},${cy - i}Z`;
  return <path key={`dm${index}`} d={d} fill={TEAL} stroke="#111" strokeWidth={0.8} />;
}

function ball(p: any) {
  const { cx, cy, index } = p;
  if (cx == null || cy == null || p.value == null) return <g key={`bl${index}`} />;
  return <circle key={`bl${index}`} cx={cx} cy={cy} r={3.7} fill={LIME} stroke="#111" strokeWidth={0.9} />;
}

function XTick(props: any) {
  const { x, y, payload, minor, major, labelDy, fontSize, spacing } = props;
  const isMajor = payload.value % 1000 === 0;
  return (
    <g>
      <line x1={x} x2={x} y1={y} y2={y + (isMajor ? major : minor)} stroke="#000" strokeWidth={1.3} />
      {isMajor && (
        <text x={x} y={y + labelDy} dy="0.36em" textAnchor="middle" fontSize={fontSize} fontFamily={FONT} letterSpacing={spacing} fill="#111">
          {payload.value}
        </text>
      )}
    </g>
  );
}

interface PanelProps {
  top: number;
  bottom: number;
  left: number;
  xMax: number;
  xTicks: number[];
  yDomain: [number, number];
  yTicks: number[];
  yFmt?: (v: number) => string;
  minor: number;
  major: number;
  labelDy: number;
  fontSize: number;
  children: any;
}

// headroom above each plot so the top tick label is not cut
const HEAD = 14;

function Panel({ top, bottom, left, xMax, xTicks, yDomain, yTicks, yFmt, minor, major, labelDy, fontSize, children }: PanelProps) {
  const plotH = bottom - top;
  const axisH = 60;
  return (
    <div style={{ position: 'absolute', left: 0, top: top - HEAD }}>
      <ComposedChart width={1133} height={plotH + axisH + HEAD} margin={{ top: HEAD, right: 2, bottom: 0, left: 0 }}>
        <XAxis
          type="number"
          dataKey="d"
          domain={[0, xMax]}
          ticks={xTicks}
          interval={0}
          height={axisH}
          tickSize={0}
          tickMargin={0}
          tickLine={false}
          axisLine={{ stroke: '#000', strokeWidth: 1.5 }}
          tick={<XTick minor={minor} major={major} labelDy={labelDy} fontSize={fontSize} spacing={2} />}
        />
        <YAxis
          type="number"
          domain={yDomain}
          ticks={yTicks}
          interval={0}
          width={left}
          tickSize={9}
          tickMargin={9}
          tickFormatter={yFmt}
          axisLine={{ stroke: '#000', strokeWidth: 1.5 }}
          tickLine={{ stroke: '#000', strokeWidth: 1.3 }}
          tick={{ fill: '#111', fontSize, fontFamily: FONT, letterSpacing: 2 }}
        />
        <ReferenceArea x1={0} x2={xMax} y1={yDomain[0]} y2={yDomain[1]} fill="none" fillOpacity={0} stroke="#222" strokeWidth={1.5} />
        {children}
      </ComposedChart>
    </div>
  );
}

const fmt2 = (v: number) => v.toFixed(2);

export default function App() {
  const t = { fontFamily: FONT, fill: '#111' } as const;
  return (
    <div style={{ position: 'absolute', left: 0, top: 0, width: 1133, height: 1621, background: '#fff', overflow: 'hidden' }}>
      {/* m: anorthite, section eb05027a3 */}
      <Panel top={42.4} bottom={223} left={116} xMax={7575} xTicks={xTicksA} yDomain={[0.05, 0.26]} yTicks={xanTicks} yFmt={fmt2} minor={7} major={17} labelDy={32} fontSize={15}>
        <Line data={rows(xanA)} dataKey="v" type="linear" stroke="#000" strokeWidth={1.2} dot={false} isAnimationActive={false} />
      </Panel>
      {/* n: SrO */}
      <Panel top={285} bottom={466.7} left={116} xMax={7575} xTicks={xTicksA} yDomain={[1000, 5000]} yTicks={srTicksA} minor={7} major={15} labelDy={32} fontSize={15}>
        <Line data={rows(srA)} dataKey="v" type="linear" stroke="#000" strokeWidth={1} dot={diamond} isAnimationActive={false} />
        <Line data={rows(srAFit)} dataKey="v" type="linear" stroke="#000" strokeWidth={3.5} dot={false} isAnimationActive={false} />
      </Panel>
      {/* o: BaO */}
      <Panel top={536} bottom={716.7} left={116} xMax={7575} xTicks={xTicksA} yDomain={[1000, 7000]} yTicks={baTicksA} minor={12} major={13} labelDy={33} fontSize={15}>
        <Line data={rows(baA)} dataKey="v" type="linear" stroke="#000" strokeWidth={1} dot={ball} isAnimationActive={false} />
        <Line data={rows(baAFit)} dataKey="v" type="linear" stroke="#000" strokeWidth={3.5} dot={false} isAnimationActive={false} />
      </Panel>

      {/* p: anorthite, section eb05042b1 */}
      <Panel top={865.6} bottom={1048.3} left={110} xMax={7614} xTicks={xTicksB} yDomain={[0.05, 0.26]} yTicks={xanTicks} yFmt={fmt2} minor={14} major={21} labelDy={30} fontSize={15}>
        <Line data={rows(xanB)} dataKey="v" type="linear" stroke="#000" strokeWidth={1.1} dot={false} isAnimationActive={false} />
      </Panel>
      {/* q: SrO */}
      <Panel top={1124} bottom={1303.3} left={110} xMax={7614} xTicks={xTicksB} yDomain={[500, 4500]} yTicks={srTicksB} minor={14} major={21} labelDy={37} fontSize={15}>
        <Line data={rows(srB)} dataKey="v" type="linear" stroke="#000" strokeWidth={1} dot={diamond} isAnimationActive={false} />
        <Line data={rows(srBFit)} dataKey="v" type="linear" stroke="#000" strokeWidth={3.5} dot={false} isAnimationActive={false} />
      </Panel>
      {/* r: BaO */}
      <Panel top={1366} bottom={1547.3} left={110} xMax={7614} xTicks={xTicksB} yDomain={[1000, 6000]} yTicks={baTicksB} minor={12} major={14} labelDy={33} fontSize={15}>
        <Line data={rows(baB)} dataKey="v" type="linear" stroke="#000" strokeWidth={1} dot={ball} isAnimationActive={false} />
        <Line data={rows(baBFit)} dataKey="v" type="linear" stroke="#000" strokeWidth={3.5} dot={false} isAnimationActive={false} />
      </Panel>

      <svg width={1133} height={1621} style={{ position: 'absolute', left: 0, top: 0, pointerEvents: 'none' }}>
        {/* section titles */}
        <text x={116} y={27} fontSize={18} letterSpacing={3.2} {...t}>Section: eb05027a3</text>
        <text x={114} y={857} fontSize={18} letterSpacing={3} {...t}>Section: eb05042b1</text>

        {/* panel annotations, upper section */}
        <text x={133} y={82} fontSize={26} letterSpacing={1} {...t}>Rim</text>
        <text x={200} y={78} fontSize={20} letterSpacing={2.2} {...t}>LA-ICP-MS</text>
        <text x={1116} y={80} fontSize={26} letterSpacing={1} textAnchor="end" {...t}>Rim</text>
        <text x={125} y={319} fontSize={20} letterSpacing={2.4} {...t}>LA-ICP-MS</text>
        <text x={124} y={569} fontSize={20} letterSpacing={2.4} {...t}>LA-ICP-MS</text>

        {/* panel annotations, lower section */}
        <text x={129} y={897} fontSize={26} letterSpacing={0.5} {...t}>Rim</text>
        <text x={192} y={897} fontSize={18} letterSpacing={3.2} {...t}>LA-ICP-MS</text>
        <text x={1110} y={897} fontSize={26} letterSpacing={0.5} textAnchor="end" {...t}>Rim</text>
        <text x={116} y={1155} fontSize={18} letterSpacing={3.2} {...t}>LA-ICP-MS</text>
        <text x={113} y={1392} fontSize={19} letterSpacing={3} {...t}>LA-ICP-MS</text>

        {/* panel letters */}
        <text x={1107} y={212} fontSize={20} fontWeight="bold" textAnchor="middle" {...t}>m</text>
        <text x={1100} y={455} fontSize={20} fontWeight="bold" textAnchor="middle" {...t}>n</text>
        <text x={1101} y={698} fontSize={20} fontWeight="bold" textAnchor="middle" {...t}>o</text>
        <text x={1109} y={977} fontSize={20} fontWeight="bold" textAnchor="middle" {...t}>p</text>
        <text x={1106} y={1283} fontSize={20} fontWeight="bold" textAnchor="middle" {...t}>q</text>
        <text x={1101} y={1532} fontSize={20} fontWeight="bold" textAnchor="middle" {...t}>r</text>

        {/* y-axis titles */}
        <text transform="rotate(-90 19 135)" x={19} y={135} fontSize={17} textAnchor="middle" dominantBaseline="central" {...t}>
          X<tspan fontSize={13} dy={5}>An</tspan>
        </text>
        <text transform="rotate(-90 30 376)" x={30} y={376} fontSize={15} letterSpacing={2} textAnchor="middle" dominantBaseline="central" {...t}>SrO ppm</text>
        <text transform="rotate(-90 24 627)" x={24} y={627} fontSize={15} letterSpacing={2} textAnchor="middle" dominantBaseline="central" {...t}>BaO ppm</text>
        <text transform="rotate(-90 22 960)" x={22} y={960} fontSize={17} textAnchor="middle" dominantBaseline="central" {...t}>
          X<tspan fontSize={13} dy={5}>An</tspan>
        </text>
        <text transform="rotate(-90 24 1207)" x={24} y={1207} fontSize={15} letterSpacing={2} textAnchor="middle" dominantBaseline="central" {...t}>SrO ppm</text>
        <text transform="rotate(-90 24 1457)" x={24} y={1457} fontSize={15} letterSpacing={2} textAnchor="middle" dominantBaseline="central" {...t}>BaO ppm</text>

        {/* distance titles */}
        <text x={625} y={795} fontSize={15} letterSpacing={1.8} textAnchor="middle" {...t}>Distance (um)</text>
        <text x={617} y={1616} fontSize={15} letterSpacing={1.8} textAnchor="middle" {...t}>Distance (um)</text>
      </svg>
    </div>
  );
}
